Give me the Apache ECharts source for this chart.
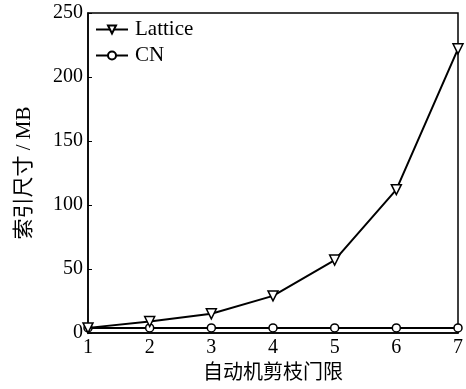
<!DOCTYPE html>
<html><head><meta charset="utf-8">
<script src="https://cdn.jsdelivr.net/npm/echarts@6/dist/echarts.min.js"></script>
<style>html,body{margin:0;padding:0;background:#fff}#c{width:466px;height:389px}</style>
</head><body><div id="c"></div>
<script>
var xValues = [1, 2, 3, 4, 5, 6, 7];
var latticeValues = [4, 9, 15, 29, 57, 112, 222];
var cnValues = [4, 4, 4, 4, 4, 4, 4];
var yTicks = [0, 50, 100, 150, 200, 250];
var seriesNames = ['Lattice', 'CN'];
var xName = '自动机剪枝门限';
var yName = '索引尺寸 / MB';

var font = '"Liberation Serif", "Noto Sans CJK SC", serif';
function pairs(xs, ys){ return xs.map(function(x,i){ return [x, ys[i]]; }); }

var chart = echarts.init(document.getElementById('c'));
chart.setOption({
  animation: false,
  grid: { left: 88, right: 7, top: 13, bottom: 51, show: true, borderColor: '#000', borderWidth: 1.5 },
  legend: {
    left: 90, top: 14, orient: 'vertical', itemGap: 5, itemWidth: 32, itemHeight: 10,
    textStyle: { fontFamily: font, fontSize: 21, color: '#000', padding: [0, 0, 0, 2] },
    data: seriesNames
  },
  xAxis: {
    type: 'value', min: 1, max: 7, interval: 1,
    name: xName, nameLocation: 'middle', nameGap: 31,
    nameTextStyle: { fontFamily: font, fontSize: 20, color: '#000' },
    axisLine: { lineStyle: { color: '#000', width: 1.5 } },
    axisTick: { inside: true, length: 4, lineStyle: { color: '#000' } },
    axisLabel: { fontFamily: font, fontSize: 20, color: '#000', margin: 5 },
    splitLine: { show: false }
  },
  yAxis: {
    type: 'value', min: yTicks[0], max: yTicks[yTicks.length-1], interval: 50,
    name: yName, nameLocation: 'middle', nameGap: 53,
    nameTextStyle: { fontFamily: font, fontSize: 21, color: '#000' },
    axisLine: { show: true, lineStyle: { color: '#000', width: 1.5 } },
    axisTick: { show: true, inside: true, length: 4, lineStyle: { color: '#000' } },
    axisLabel: { fontFamily: font, fontSize: 20, color: '#000', margin: 5 },
    splitLine: { show: false }
  },
  series: [
    {
      name: seriesNames[0], type: 'line', data: pairs(xValues, latticeValues),
      symbol: 'triangle', symbolRotate: 180, symbolSize: 10, showAllSymbol: true,
      lineStyle: { color: '#000', width: 2 },
      itemStyle: { color: '#fff', borderColor: '#000', borderWidth: 1.5 },
      z: 3
    },
    {
      name: seriesNames[1], type: 'line', data: pairs(xValues, cnValues),
      symbol: 'circle', symbolSize: 8, showAllSymbol: true,
      lineStyle: { color: '#000', width: 2 },
      itemStyle: { color: '#fff', borderColor: '#000', borderWidth: 1.5 },
      z: 2
    }
  ]
});
</script></body></html>
